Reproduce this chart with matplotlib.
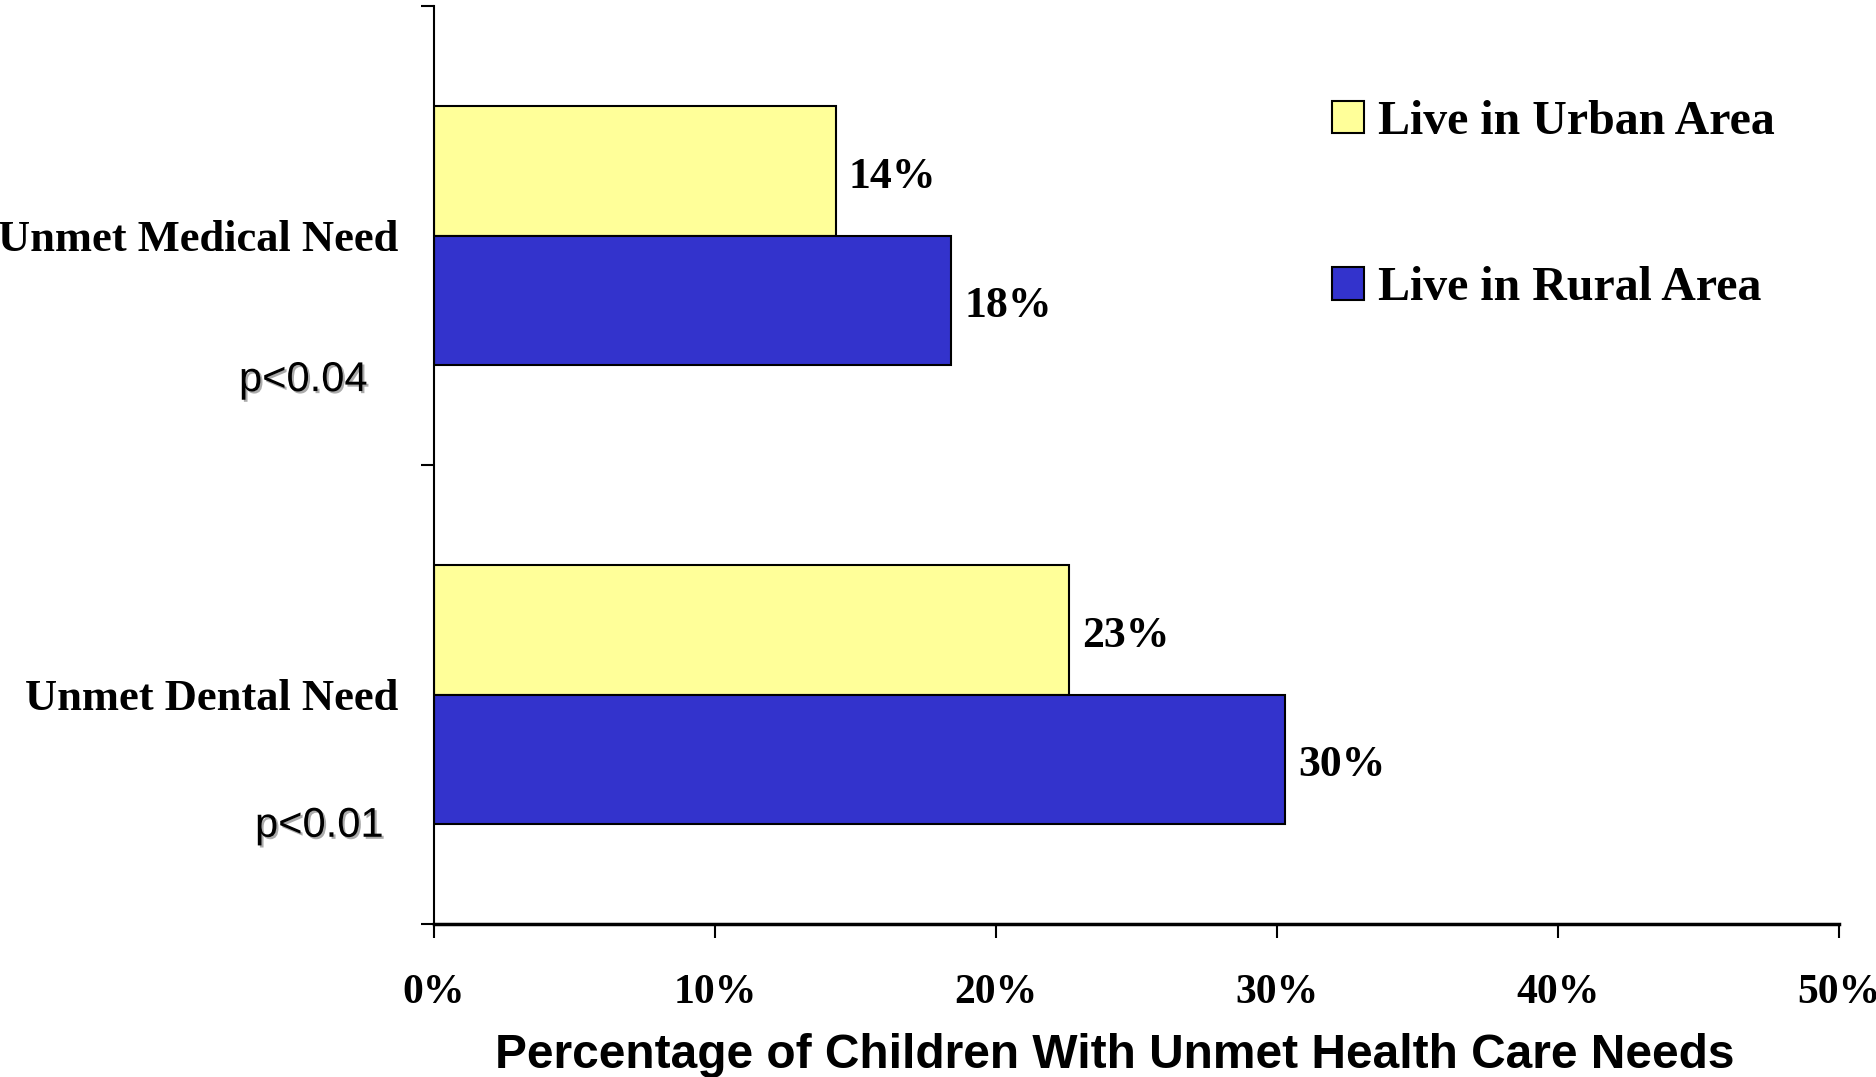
import numpy as np
import matplotlib
matplotlib.use("Agg")
import matplotlib.pyplot as plt
import matplotlib.patheffects as pe
from matplotlib.transforms import blended_transform_factory

# Data
categories = ["Unmet Medical Need", "Unmet Dental Need"]
p_values = ["p<0.04", "p<0.01"]
series_names = ["Live in Urban Area", "Live in Rural Area"]
urban = [14.3, 22.6]
rural = [18.4, 30.3]
x_ticks = [0, 10, 20, 30, 40, 50]
x_label = "Percentage of Children With Unmet Health Care Needs"

SERIF = "Liberation Serif"
SANS = "Liberation Sans"
YELLOW = "#FFFF99"
BLUE = "#3333CC"

fig = plt.figure(figsize=(18.76, 10.77), dpi=100)
ax = fig.add_axes([434 / 1876, 1 - 924 / 1077, 1405 / 1876, 918 / 1077])

centers = np.arange(len(categories)) + 0.5
h = 0.283
b_urban = ax.barh(centers - h / 2, urban, height=h, color=YELLOW,
                  edgecolor="black", linewidth=1.5, label=series_names[0])
b_rural = ax.barh(centers + h / 2, rural, height=h, color=BLUE,
                  edgecolor="black", linewidth=1.5, label=series_names[1])

ax.set_xlim(0, 50)
ax.set_ylim(len(categories), 0)

# value labels
for bars, vals in ((b_urban, urban), (b_rural, rural)):
    for rect, v in zip(bars, vals):
        ax.annotate(f"{v:.0f}%", xy=(v, rect.get_y() + rect.get_height() / 2),
                    xytext=(9.4, -4.3), textcoords="offset points",
                    ha="left", va="center", fontsize=31.5,
                    fontfamily=SERIF, fontweight="bold")

# spines
ax.spines["top"].set_visible(False)
ax.spines["right"].set_visible(False)
ax.spines["left"].set_linewidth(1.5)
ax.spines["bottom"].set_linewidth(2.5)

# x axis
ax.set_xticks(x_ticks)
ax.set_xticklabels([f"{t}%" for t in x_ticks], fontfamily=SERIF,
                   fontweight="bold", fontsize=30)
ax.tick_params(axis="x", direction="out", length=10, width=1.5, pad=26)

ax.set_xlabel(x_label, fontfamily=SANS, fontweight="bold", fontsize=34.5,
              va="baseline")
ax.xaxis.set_label_coords(0.4843, -0.1569)

# y axis: boundary ticks, category labels between them
ax.set_yticks(np.arange(len(categories) + 1))
ax.set_yticklabels([])
ax.tick_params(axis="y", which="major", direction="out", length=9.5, width=1.5)
ax.set_yticks(centers, minor=True)
ax.set_yticklabels(categories, minor=True, fontfamily=SERIF,
                   fontweight="bold", fontsize=32)
ax.tick_params(axis="y", which="minor", length=0, pad=26)

# significance notes with a soft drop shadow
trans = blended_transform_factory(ax.transAxes, ax.transData)
p_x = [-0.1388, -0.1274]
p_dy = [0.315, 0.286]
for c, txt, px, dy in zip(centers, p_values, p_x, p_dy):
    ax.text(px, c + dy, txt, transform=trans, ha="left", va="center",
            fontsize=30, fontfamily=SANS, color="black",
            path_effects=[pe.withSimplePatchShadow(offset=(1.5, -1.5),
                                                   shadow_rgbFace="#888888",
                                                   alpha=0.7)])

leg = ax.legend(handles=[b_urban, b_rural], loc="upper left",
                bbox_to_anchor=(1332 / 1876, 1 - 100 / 1077),
                bbox_transform=fig.transFigure, frameon=False,
                prop={"family": SERIF, "weight": "bold", "size": 34.5},
                handlelength=0.66, handleheight=0.66, handletextpad=0.3,
                labelspacing=2.55, borderpad=0, borderaxespad=0)

fig.savefig("out.png", dpi=100)
